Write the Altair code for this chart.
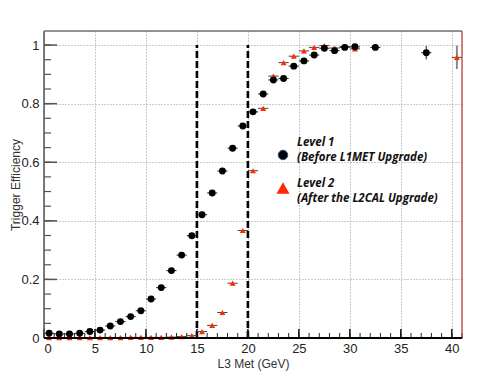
import altair as alt
import pandas as pd

# ---- data ----
l1_x = [0.5, 1.5, 2.5, 3.5, 4.5, 5.5, 6.5, 7.5, 8.5, 9.5, 10.5, 11.5, 12.5, 13.5, 14.5,
        15.5, 16.5, 17.5, 18.5, 19.5, 20.5, 21.5, 22.5, 23.5, 24.5, 25.5, 26.5, 27.5,
        28.5, 29.5, 30.5, 32.5, 37.5]
l1_y = [0.016, 0.014, 0.014, 0.016, 0.022, 0.027, 0.041, 0.056, 0.073, 0.093, 0.133,
        0.172, 0.230, 0.283, 0.349, 0.421, 0.495, 0.570, 0.648, 0.724, 0.772, 0.833,
        0.881, 0.886, 0.928, 0.946, 0.966, 0.989, 0.981, 0.992, 0.994, 0.992, 0.974]
l1_yerr = [0.002] * 31 + [0.004, 0.023]

l2_x = [0.5, 1.5, 2.5, 3.5, 4.5, 5.5, 6.5, 7.5, 8.5, 9.5, 10.5, 11.5, 12.5, 13.5, 14.5,
        15.5, 16.5, 17.5, 18.5, 19.5, 20.5, 21.5, 22.5, 23.5, 24.5, 25.5, 26.5, 27.5,
        28.5, 29.5, 30.5, 40.5]
l2_y = [0.001, 0.001, 0.001, 0.001, 0.001, 0.001, 0.001, 0.001, 0.002, 0.002, 0.002,
        0.002, 0.003, 0.005, 0.008, 0.022, 0.043, 0.087, 0.187, 0.367, 0.571, 0.784,
        0.894, 0.940, 0.962, 0.980, 0.992, 0.998, 0.990, 0.995, 0.987, 0.958]
l2_yerr = [0.0] * 31 + [0.04]
half_bin = 0.5

cut_x = [15, 20]
x_major = [0, 5, 10, 15, 20, 25, 30, 35, 40]
x_minor = list(range(0, 42))
y_major = [0, 0.2, 0.4, 0.6, 0.8, 1.0]
y_minor = [round(0.05 * i, 2) for i in range(0, 21)]

legend_labels = ["Level 1", "(Before L1MET Upgrade)", "Level 2", "(After the L2CAL Upgrade)"]

W, H = 418, 307
XD = [0, 41]
YD = [0, 1.048]

RED = "#ff2a00"

l1 = pd.DataFrame({"x": l1_x, "y": l1_y, "err": l1_yerr})
l1["xlo"] = l1["x"] - half_bin
l1["xhi"] = l1["x"] + half_bin
l1["ylo"] = l1["y"] - l1["err"]
l1["yhi"] = l1["y"] + l1["err"]

l2 = pd.DataFrame({"x": l2_x, "y": l2_y, "err": l2_yerr})
l2["xlo"] = l2["x"] - half_bin
l2["xhi"] = l2["x"] + half_bin
l2["ylo"] = l2["y"] - l2["err"]
l2["yhi"] = l2["y"] + l2["err"]

xs = alt.Scale(domain=XD, nice=False, zero=False)
ys = alt.Scale(domain=YD, nice=False, zero=False)

lab_font = "Liberation Sans"

base_axes = alt.Chart(pd.DataFrame({"x": [0], "y": [0]})).mark_point(opacity=0).encode(
    x=alt.X("x:Q", scale=xs, title="L3 Met (GeV)",
            axis=alt.Axis(values=x_major, ticks=False, domain=False, grid=True,
                          gridDash=[1, 2], gridColor="#999", gridWidth=1,
                          labelFont=lab_font, labelFontSize=13, labelColor="#222",
                          labelPadding=4, titleFont=lab_font, titleFontSize=12,
                          titleFontWeight="normal", titleColor="#333", titlePadding=3)),
    y=alt.Y("y:Q", scale=ys, title="Trigger Efficiency",
            axis=alt.Axis(values=y_major, format=".1~f", ticks=False, domain=False, grid=True,
                          gridDash=[1, 2], gridColor="#999", gridWidth=1,
                          labelFont=lab_font, labelFontSize=13, labelColor="#222",
                          labelPadding=5, titleFont=lab_font, titleFontSize=12,
                          titleFontWeight="normal", titleColor="#333",
                          titleX=-22, titleY=H / 2)),
)

# manual inward ticks
x_ticks = alt.Chart(pd.DataFrame({"v": x_minor})).mark_rule(color="#222", strokeWidth=1).encode(
    x=alt.X("v:Q", scale=xs), y=alt.value(H), y2=alt.value(H - 5))
x_ticks_major = alt.Chart(pd.DataFrame({"v": x_major})).mark_rule(color="#111", strokeWidth=1.5).encode(
    x=alt.X("v:Q", scale=xs), y=alt.value(H), y2=alt.value(H - 9))

y_ticks = alt.Chart(pd.DataFrame({"v": y_minor})).mark_rule(color="#555", strokeWidth=1.2).encode(
    y=alt.Y("v:Q", scale=ys), x=alt.value(0), x2=alt.value(7))
y_ticks_major = alt.Chart(pd.DataFrame({"v": y_major})).mark_rule(color="#555", strokeWidth=1.5).encode(
    y=alt.Y("v:Q", scale=ys), x=alt.value(0), x2=alt.value(13))

# frame
frame_left = alt.Chart(pd.DataFrame({"a": [0]})).mark_rule(color="#555", strokeWidth=1.5).encode(
    x=alt.value(0), y=alt.value(0), y2=alt.value(H))
frame_top = alt.Chart(pd.DataFrame({"a": [0]})).mark_rule(color="#777", strokeWidth=1.5).encode(
    x=alt.value(0), x2=alt.value(W), y=alt.value(0))
frame_right = alt.Chart(pd.DataFrame({"a": [0]})).mark_rule(color="#c0392b", strokeWidth=1.2).encode(
    x=alt.value(W), y=alt.value(0), y2=alt.value(H))
frame_bottom = alt.Chart(pd.DataFrame({"a": [0]})).mark_rule(color="#000", strokeWidth=2).encode(
    x=alt.value(0), x2=alt.value(W), y=alt.value(H))

# dashed cut lines
cuts = alt.Chart(pd.DataFrame({"x": cut_x, "y0": [0] * len(cut_x), "y1": [1.0] * len(cut_x)})).mark_rule(
    color="#000", strokeWidth=2.6, strokeDash=[7, 3]).encode(
    x=alt.X("x:Q", scale=xs), y=alt.Y("y0:Q", scale=ys), y2="y1:Q")

# level 2 (red triangles)
l2_hbar = alt.Chart(l2).mark_rule(color="#444", strokeWidth=1).encode(
    x=alt.X("xlo:Q", scale=xs), x2="xhi:Q", y=alt.Y("y:Q", scale=ys))
l2_vbar = alt.Chart(l2).mark_rule(color="#888", strokeWidth=2).encode(
    x=alt.X("x:Q", scale=xs), y=alt.Y("ylo:Q", scale=ys), y2="yhi:Q")
l2_pts = alt.Chart(l2).mark_point(shape="triangle-up", filled=True, color=RED, size=36, opacity=1).encode(
    x=alt.X("x:Q", scale=xs), y=alt.Y("y:Q", scale=ys))

# level 1 (black circles)
l1_hbar = alt.Chart(l1).mark_rule(color="#222", strokeWidth=1).encode(
    x=alt.X("xlo:Q", scale=xs), x2="xhi:Q", y=alt.Y("y:Q", scale=ys))
l1_vbar = alt.Chart(l1).mark_rule(color="#666", strokeWidth=1.5).encode(
    x=alt.X("x:Q", scale=xs), y=alt.Y("ylo:Q", scale=ys), y2="yhi:Q")
l1_pts = alt.Chart(l1).mark_circle(color="#000", size=48, opacity=1).encode(
    x=alt.X("x:Q", scale=xs), y=alt.Y("y:Q", scale=ys))

# legend
leg_circle = alt.Chart(pd.DataFrame({"a": [0]})).mark_circle(
    color="#000", size=90, opacity=1, stroke="#2a4a7a", strokeWidth=1).encode(
    x=alt.value(239), y=alt.value(124))
leg_tri = alt.Chart(pd.DataFrame({"a": [0]})).mark_point(
    shape="triangle-up", filled=True, color=RED, size=170, opacity=1).encode(
    x=alt.value(239), y=alt.value(157))
leg_df = pd.DataFrame({"t": legend_labels, "py": [111.5, 126.5, 152.5, 167.5]})
leg_text = alt.Chart(leg_df).mark_text(
    align="left", baseline="middle", font="Open Sans", fontSize=11.5, fontStyle="italic",
    fontWeight="bold", color="#111").encode(
    x=alt.value(253), y=alt.Y("py:Q", scale=None), text="t:N")

chart = alt.layer(
    base_axes, cuts, x_ticks, x_ticks_major, y_ticks, y_ticks_major,
    l2_hbar, l2_vbar, l2_pts, l1_hbar, l1_vbar, l1_pts,
    frame_left, frame_top, frame_right, frame_bottom,
    leg_circle, leg_tri, leg_text,
).properties(
    width=W, height=H,
    autosize=alt.AutoSizeParams(type="none"),
    padding={"left": 36, "top": 23, "right": 15, "bottom": 36},
).configure_view(stroke=None).configure(background="white")

chart.save("out.html", embed_options={"renderer": "svg", "actions": False})
